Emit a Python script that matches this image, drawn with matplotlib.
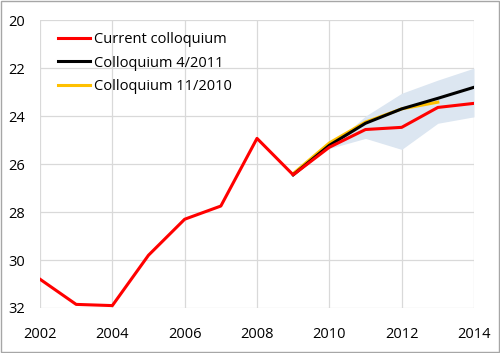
import matplotlib
matplotlib.use("Agg")
import matplotlib.pyplot as plt

plt.rcParams['font.family'] = ['Open Sans', 'DejaVu Sans']

# Data
years = [2002, 2003, 2004, 2005, 2006, 2007, 2008, 2009, 2010, 2011, 2012, 2013, 2014]
current = [30.8, 31.85, 31.9, 29.8, 28.3, 27.75, 24.93, 26.45, 25.3, 24.56, 24.47, 23.64, 23.47]

years_4_2011 = [2009, 2010, 2011, 2012, 2013, 2014]
coll_4_2011 = [26.45, 25.22, 24.3, 23.7, 23.26, 22.8]

years_11_2010 = [2009, 2010, 2011, 2012, 2013]
coll_11_2010 = [26.4, 25.12, 24.25, 23.7, 23.42]

band_years = [2010, 2011, 2012, 2013, 2014]
band_upper = [25.3, 24.0, 23.05, 22.5, 22.0]
band_lower = [25.35, 24.93, 25.39, 24.3, 24.03]

fig = plt.figure(figsize=(5.0, 3.53), dpi=100, facecolor="white")
ax = fig.add_axes([0.08, 0.1275, 0.868, 0.8155])

ax.fill_between(band_years, band_upper, band_lower, color="#DCE6F1", lw=0, zorder=1)
ax.plot(years_11_2010, coll_11_2010, color="#FFC000", lw=2.2, zorder=3, label="Colloquium 11/2010")
ax.plot(years_4_2011, coll_4_2011, color="black", lw=2.2, zorder=4, label="Colloquium 4/2011")
ax.plot(years, current, color="#FF0000", lw=2.2, zorder=5, label="Current colloquium")

ax.set_xlim(2002, 2014)
ax.set_ylim(32, 20)
ax.set_xticks(range(2002, 2015, 2))
ax.set_yticks(range(20, 33, 2))
ax.grid(color="#D9D9D9", lw=0.9, zorder=0)
ax.set_axisbelow(True)
for s in ax.spines.values():
    s.set_visible(False)
ax.tick_params(length=0, labelsize=10.5, colors="black")
ax.tick_params(axis="x", pad=14)
ax.tick_params(axis="y", pad=11)

h, l = ax.get_legend_handles_labels()
ax.legend(h[::-1], l[::-1], loc="upper left", frameon=False, fontsize=10.5,
          handlelength=2.2, handletextpad=0.25, labelspacing=0.6,
          bbox_to_anchor=(0.012, 1.005))

# outer border
fig.patches.append(plt.Rectangle((0.002, 0.002), 0.996, 0.996, transform=fig.transFigure,
                                 fill=False, edgecolor="#A6A6A6", lw=1))

fig.savefig("out.png", dpi=100, facecolor=fig.get_facecolor())
